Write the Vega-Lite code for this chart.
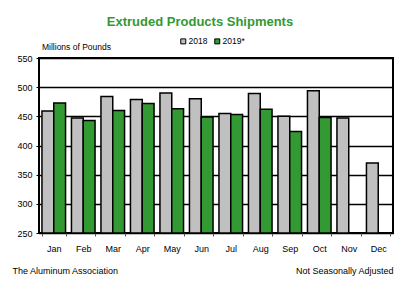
{
  "$schema": "https://vega.github.io/schema/vega-lite/v6.json",
  "width": 354,
  "height": 175,
  "autosize": {"type": "none"},
  "padding": {"left": 39, "top": 58, "right": 23, "bottom": 57},
  "background": "white",
  "title": {
    "text": "Extruded Products Shipments",
    "anchor": "middle",
    "frame": "group",
    "dx": -16,
    "dy": 13,
    "offset": 11,
    "baseline": "alphabetic",
    "fontSize": 13,
    "fontWeight": "bold",
    "color": "#339933"
  },
  "data": {
    "values": [
      {"month": "Jan", "year": "2018", "value": 459},
      {"month": "Feb", "year": "2018", "value": 447},
      {"month": "Mar", "year": "2018", "value": 484},
      {"month": "Apr", "year": "2018", "value": 479},
      {"month": "May", "year": "2018", "value": 490},
      {"month": "Jun", "year": "2018", "value": 480},
      {"month": "Jul", "year": "2018", "value": 455},
      {"month": "Aug", "year": "2018", "value": 489},
      {"month": "Sep", "year": "2018", "value": 450},
      {"month": "Oct", "year": "2018", "value": 494},
      {"month": "Nov", "year": "2018", "value": 447},
      {"month": "Dec", "year": "2018", "value": 370},
      {"month": "Jan", "year": "2019*", "value": 473},
      {"month": "Feb", "year": "2019*", "value": 443},
      {"month": "Mar", "year": "2019*", "value": 460},
      {"month": "Apr", "year": "2019*", "value": 472},
      {"month": "May", "year": "2019*", "value": 463},
      {"month": "Jun", "year": "2019*", "value": 449},
      {"month": "Jul", "year": "2019*", "value": 453},
      {"month": "Aug", "year": "2019*", "value": 462},
      {"month": "Sep", "year": "2019*", "value": 424},
      {"month": "Oct", "year": "2019*", "value": 448}
    ]
  },
  "mark": {"type": "bar", "stroke": "black", "strokeWidth": 1.5},
  "encoding": {
    "x": {
      "field": "month",
      "type": "nominal",
      "sort": ["Jan", "Feb", "Mar", "Apr", "May", "Jun", "Jul", "Aug", "Sep", "Oct", "Nov", "Dec"],
      "scale": {"paddingInner": 0.2, "paddingOuter": 0.1},
      "axis": {
        "title": "Not Seasonally Adjusted",
        "titleX": 354,
        "titleY": 40,
        "titleAlign": "right",
        "titleBaseline": "alphabetic",
        "labelAngle": 0,
        "labelBaseline": "alphabetic",
        "tickBand": "extent",
        "domain": false,
        "tickSize": 3,
        "tickColor": "#555555",
        "labelPadding": 15
      }
    },
    "xOffset": {
      "field": "year",
      "type": "nominal",
      "scale": {"domain": ["2018", "2019*"], "paddingInner": 0, "paddingOuter": 0}
    },
    "y": {
      "field": "value",
      "type": "quantitative",
      "scale": {"domain": [250, 550], "zero": false, "nice": false},
      "axis": {
        "values": [250, 300, 350, 400, 450, 500, 550],
        "title": "The Aluminum Association",
        "titleAngle": 0,
        "titleX": -27,
        "titleY": 215,
        "titleAlign": "left",
        "titleBaseline": "alphabetic",
        "grid": true,
        "gridColor": "black",
        "gridWidth": 1.5,
        "gridOpacity": 1,
        "domain": false,
        "tickSize": 3,
        "tickColor": "black",
        "labelPadding": 4
      }
    },
    "y2": {"datum": 250},
    "color": {
      "field": "year",
      "type": "nominal",
      "scale": {"domain": ["2018", "2019*"], "range": ["#c0c0c0", "#339933"]},
      "legend": {
        "orient": "none",
        "legendX": 3,
        "legendY": -21,
        "direction": "horizontal",
        "title": "Millions of Pounds",
        "titleOrient": "left",
        "titlePadding": 68,
        "titleBaseline": "line-top",
        "titleLineHeight": 13,
        "symbolType": "square",
        "symbolSize": 25,
        "symbolStrokeColor": "black",
        "symbolStrokeWidth": 1,
        "labelOffset": 1,
        "columnPadding": 4
      }
    }
  },
  "config": {
    "font": "Liberation Sans, Arial, sans-serif",
    "view": {"stroke": "black", "strokeWidth": 2},
    "axis": {
      "labelColor": "black",
      "titleColor": "black",
      "labelFontSize": 9,
      "titleFontSize": 9,
      "titleFontWeight": "normal"
    },
    "legend": {
      "labelColor": "black",
      "titleColor": "black",
      "labelFontSize": 8.5,
      "titleFontSize": 8.5,
      "titleFontWeight": "normal"
    }
  }
}
